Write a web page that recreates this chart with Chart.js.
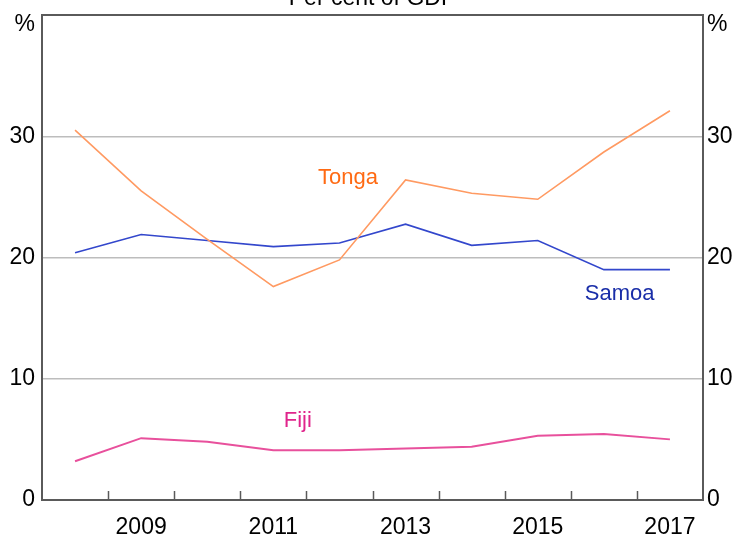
<!DOCTYPE html>
<html>
<head>
<meta charset="utf-8">
<script src="https://cdn.jsdelivr.net/npm/chart.js@4.4.1/dist/chart.umd.min.js"></script>
<style>
html,body{margin:0;padding:0;background:#fff;}
#wrap{width:734px;height:536px;position:relative;}
</style>
</head>
<body>
<div id="wrap"><canvas id="c" width="734" height="536"></canvas></div>
<script>
const years = ['2008','2009','2010','2011','2012','2013','2014','2015','2016','2017'];
const tonga = [30.5, 25.5, 21.5, 17.6, 19.8, 26.4, 25.3, 24.8, 28.7, 32.1];
const samoa = [20.4, 21.9, 21.4, 20.9, 21.2, 22.75, 21.0, 21.4, 19.0, 19.0];
const fiji  = [3.2, 5.1, 4.8, 4.1, 4.1, 4.25, 4.4, 5.3, 5.45, 5.0];
const yMin = 0, yMax = 40;
const yTicks = [0, 10, 20, 30];
const titleText = 'Per cent of GDP';
// series labels: [text, x index position, y value, colour]
const seriesLabels = [
  ['Tonga', 4.13, 26.55, '#FF6A13'],
  ['Samoa', 8.24, 17.0, '#1A2EA8'],
  ['Fiji', 3.37, 6.5, '#E0258C']
];

const FONT = '"Liberation Sans", Arial, sans-serif';
const frameColor = '#5a5a5a';

const decor = {
  id: 'decor',
  afterDatasetsDraw(chart) {
    const ctx = chart.ctx;
    const a = chart.chartArea;
    const xs = chart.scales.x, ys = chart.scales.y;
    ctx.save();
    // top frame line
    ctx.strokeStyle = frameColor;
    ctx.lineWidth = 2;
    ctx.beginPath();
    ctx.moveTo(a.left - 1, a.top);
    ctx.lineTo(a.right + 1, a.top);
    ctx.stroke();
    // bottom tick marks between categories, pointing up
    ctx.lineWidth = 1.5;
    for (let i = 1; i < years.length; i++) {
      const x = Math.round((xs.getPixelForValue(i - 1) + xs.getPixelForValue(i)) / 2) + 0.5;
      ctx.beginPath();
      ctx.moveTo(x, a.bottom);
      ctx.lineTo(x, a.bottom - 9);
      ctx.stroke();
    }
    // % unit labels
    ctx.fillStyle = '#000';
    ctx.font = '23px ' + FONT;
    ctx.textBaseline = 'middle';
    ctx.textAlign = 'right';
    ctx.fillText('%', a.left - 7, a.top + 10);
    ctx.textAlign = 'left';
    ctx.fillText('%', a.right + 4, a.top + 10);
    // title (cut off at top as in the reference)
    ctx.textAlign = 'center';
    ctx.textBaseline = 'alphabetic';
    ctx.fillText(titleText, (a.left + a.right) / 2, 5);
    // series labels
    ctx.font = '22px ' + FONT;
    ctx.textBaseline = 'middle';
    for (const [t, xi, yv, col] of seriesLabels) {
      ctx.fillStyle = col;
      ctx.fillText(t, xs.getPixelForValue(xi), ys.getPixelForValue(yv));
    }
    ctx.restore();
  }
};

const yAxisCommon = {
  min: yMin, max: yMax,
  afterBuildTicks(scale) { scale.ticks = yTicks.map(v => ({value: v})); },
  ticks: {
    color: '#000',
    font: {family: FONT, size: 23},
    callback: v => String(v)
  },
  border: {display: true, color: frameColor, width: 2}
};

function fitY(width) {
  return function (scale) {
    scale.width = width;
    scale.paddingTop = 0;
    scale.paddingBottom = 0;
  };
}

new Chart(document.getElementById('c'), {
  type: 'line',
  data: {
    labels: years,
    datasets: [
      {label: 'Tonga', data: tonga, borderColor: '#FF9A62', borderWidth: 1.6, pointRadius: 0, tension: 0, fill: false},
      {label: 'Samoa', data: samoa, borderColor: '#3347CC', borderWidth: 1.6, pointRadius: 0, tension: 0, fill: false},
      {label: 'Fiji', data: fiji, borderColor: '#E8509C', borderWidth: 2, pointRadius: 0, tension: 0, fill: false}
    ]
  },
  options: {
    responsive: false,
    animation: false,
    devicePixelRatio: 1,
    layout: {padding: {top: 15, left: 0, right: 0, bottom: 0}},
    plugins: {legend: {display: false}, tooltip: {enabled: false}, title: {display: false}},
    scales: {
      x: {
        type: 'category',
        offset: true,
        grid: {display: false, drawTicks: false},
        border: {display: true, color: frameColor, width: 2},
        afterFit(scale) { scale.height = 36; },
        ticks: {
          color: '#000',
          font: {family: FONT, size: 23},
          padding: 14,
          autoSkip: false,
          maxRotation: 0,
          callback: (v, i) => (i % 2 === 1 ? years[i] : '')
        }
      },
      y: Object.assign({}, yAxisCommon, {
        position: 'left',
        afterFit: fitY(42),
        grid: {
          drawTicks: false,
          color: ctx => (ctx.tick && ctx.tick.value === 0 ? 'rgba(0,0,0,0)' : '#BDBDBD'),
          lineWidth: 1.5
        },
        ticks: Object.assign({}, yAxisCommon.ticks, {padding: 7})
      }),
      y2: Object.assign({}, yAxisCommon, {
        position: 'right',
        afterFit: fitY(31),
        grid: {drawOnChartArea: false, drawTicks: false},
        ticks: Object.assign({}, yAxisCommon.ticks, {padding: 4})
      })
    }
  },
  plugins: [decor]
});
</script>
</body>
</html>
